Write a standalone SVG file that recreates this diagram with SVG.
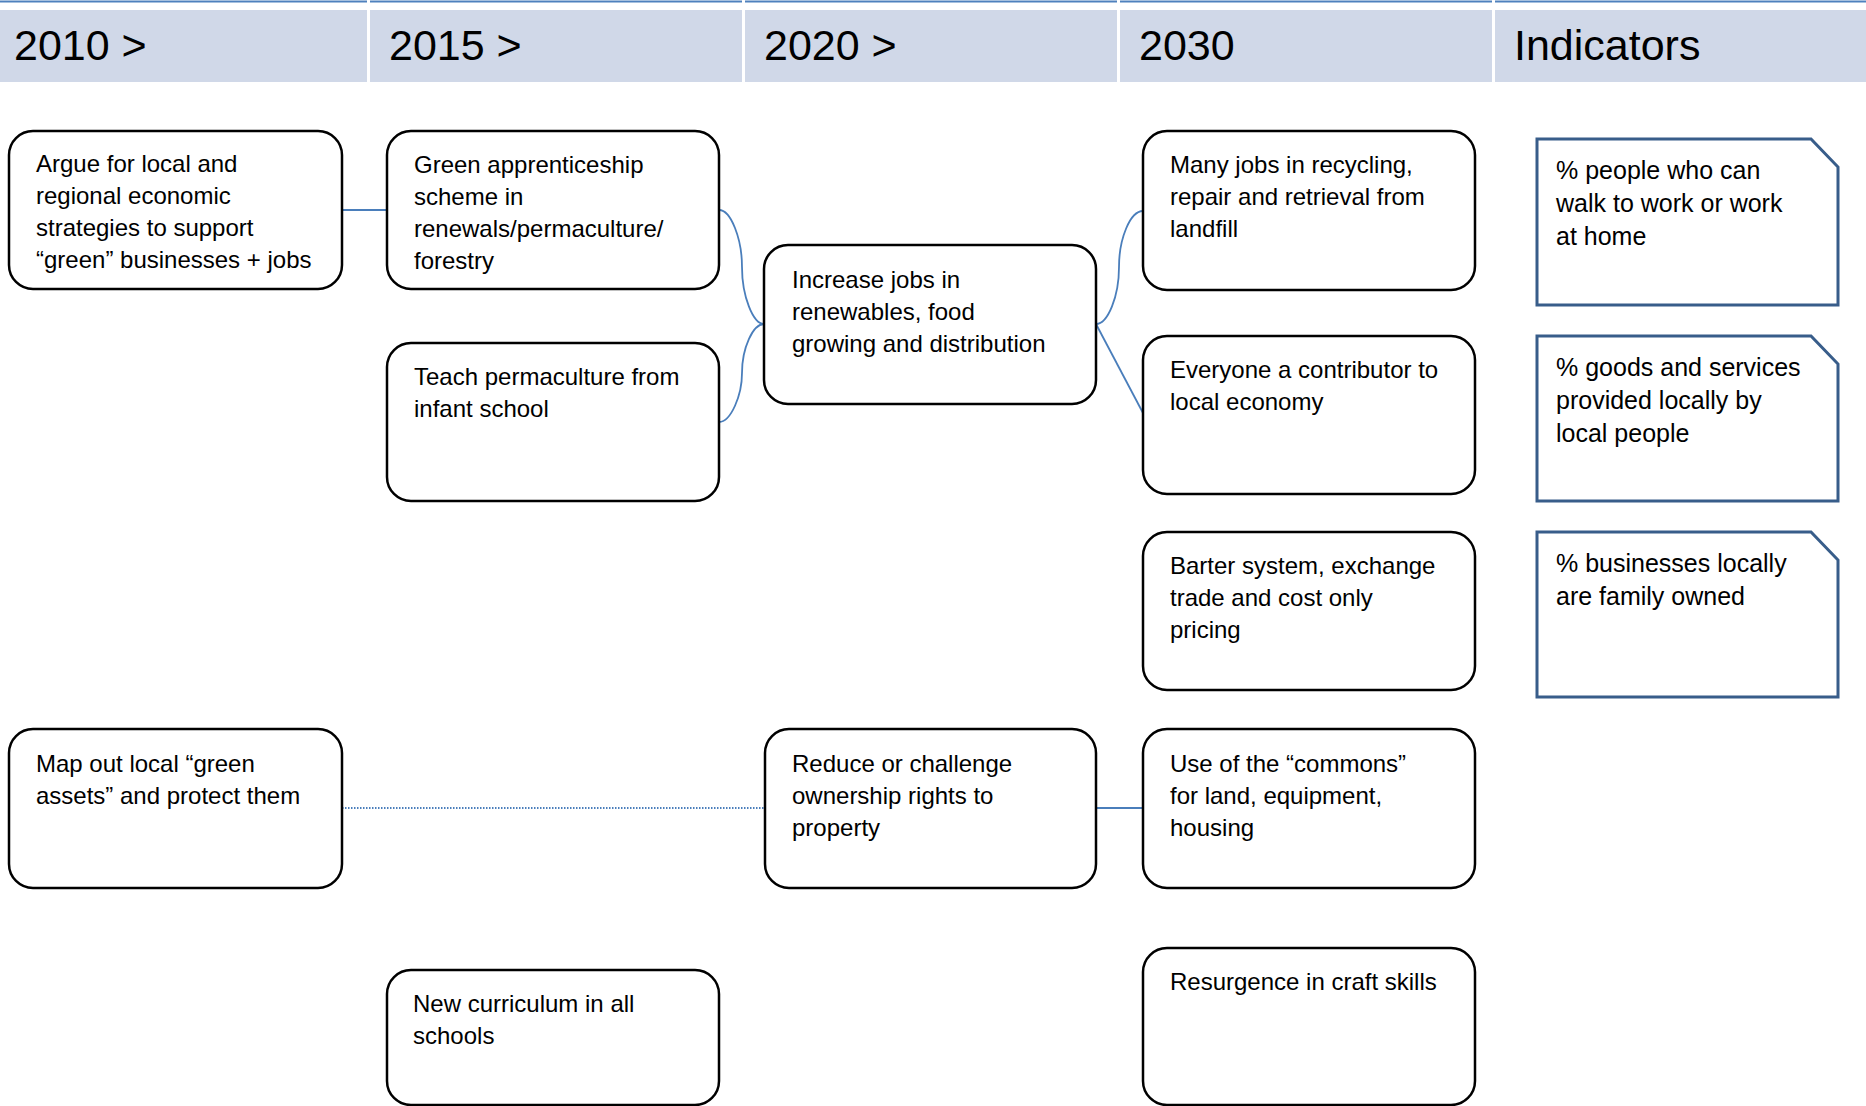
<svg xmlns="http://www.w3.org/2000/svg" width="1866" height="1106" viewBox="0 0 1866 1106">
<style>
.hdr{fill:#d0d8e8}
.topline{stroke:#4f81bd;stroke-width:2}
.htxt{font-family:"Liberation Sans",Arial,sans-serif;font-size:43px;fill:#000}
.box{fill:#fff;stroke:#000;stroke-width:2.5}
.ind{fill:#fff;stroke:#385d8a;stroke-width:3}
.t{font-family:"Liberation Sans",Arial,sans-serif;font-size:24px;fill:#000}
.ti{font-family:"Liberation Sans",Arial,sans-serif;font-size:25px;fill:#000}
.con{fill:none;stroke:#4a7ebb;stroke-width:1.8}
.dot{fill:none;stroke:#4a7ebb;stroke-width:1.8;stroke-dasharray:1.5 1.5}
</style>
<rect width="1866" height="1106" fill="#fff"/>
<g id="header">
<line class="topline" x1="0" y1="1.5" x2="367" y2="1.5"/>
<line class="topline" x1="370" y1="1.5" x2="742" y2="1.5"/>
<line class="topline" x1="745" y1="1.5" x2="1117" y2="1.5"/>
<line class="topline" x1="1120" y1="1.5" x2="1492" y2="1.5"/>
<line class="topline" x1="1495" y1="1.5" x2="1866" y2="1.5"/>
<rect class="hdr" x="0" y="10" width="367" height="72"/>
<rect class="hdr" x="370" y="10" width="372" height="72"/>
<rect class="hdr" x="745" y="10" width="372" height="72"/>
<rect class="hdr" x="1120" y="10" width="372" height="72"/>
<rect class="hdr" x="1495" y="10" width="371" height="72"/>
<text class="htxt" x="14" y="60">2010 &gt;</text>
<text class="htxt" x="389" y="60">2015 &gt;</text>
<text class="htxt" x="764" y="60">2020 &gt;</text>
<text class="htxt" x="1139" y="60">2030</text>
<text class="htxt" x="1514" y="60">Indicators</text>
</g>
<g id="connectors">
<line class="con" x1="342" y1="210" x2="387" y2="210"/>
<path class="con" d="M719,210 C731,210 742,239 742,267 C742,296 753,324 764,324"/>
<path class="con" d="M719,422 C731,422 742,395 742,373 C742,348 753,324 764,324"/>
<path class="con" d="M1096,324 C1108,324 1119,296 1119,267 C1119,239 1130,211 1143,211"/>
<line class="con" x1="1096" y1="324" x2="1143" y2="413"/>
<line class="dot" x1="342" y1="808" x2="765" y2="808"/>
<line class="con" x1="1096" y1="808" x2="1143" y2="808"/>
</g>
<g id="n2010a"><rect class="box" x="9" y="131" width="333" height="158" rx="24"/>
<text class="t"><tspan x="36" y="172">Argue for local and</tspan><tspan x="36" y="204">regional economic</tspan><tspan x="36" y="236">strategies to support</tspan><tspan x="36" y="268">“green” businesses + jobs</tspan></text></g>
<g id="n2015a"><rect class="box" x="387" y="131" width="332" height="158" rx="24"/>
<text class="t"><tspan x="414" y="173">Green apprenticeship</tspan><tspan x="414" y="205">scheme in</tspan><tspan x="414" y="237">renewals/permaculture/</tspan><tspan x="414" y="269">forestry</tspan></text></g>
<g id="n2015b"><rect class="box" x="387" y="343" width="332" height="158" rx="24"/>
<text class="t"><tspan x="414" y="385">Teach permaculture from</tspan><tspan x="414" y="417">infant school</tspan></text></g>
<g id="n2020a"><rect class="box" x="764" y="245" width="332" height="159" rx="24"/>
<text class="t"><tspan x="792" y="288">Increase jobs in</tspan><tspan x="792" y="320">renewables, food</tspan><tspan x="792" y="352">growing and distribution</tspan></text></g>
<g id="n2030a"><rect class="box" x="1143" y="131" width="332" height="159" rx="24"/>
<text class="t"><tspan x="1170" y="173">Many jobs in recycling,</tspan><tspan x="1170" y="205">repair and retrieval from</tspan><tspan x="1170" y="237">landfill</tspan></text></g>
<g id="n2030b"><rect class="box" x="1143" y="336" width="332" height="158" rx="24"/>
<text class="t"><tspan x="1170" y="378">Everyone a contributor to</tspan><tspan x="1170" y="410">local economy</tspan></text></g>
<g id="n2030c"><rect class="box" x="1143" y="532" width="332" height="158" rx="24"/>
<text class="t"><tspan x="1170" y="574">Barter system, exchange</tspan><tspan x="1170" y="606">trade and cost only</tspan><tspan x="1170" y="638">pricing</tspan></text></g>
<g id="n2010b"><rect class="box" x="9" y="729" width="333" height="159" rx="24"/>
<text class="t"><tspan x="36" y="772">Map out local “green</tspan><tspan x="36" y="804">assets” and protect them</tspan></text></g>
<g id="n2020b"><rect class="box" x="765" y="729" width="331" height="159" rx="24"/>
<text class="t"><tspan x="792" y="772">Reduce or challenge</tspan><tspan x="792" y="804">ownership rights to</tspan><tspan x="792" y="836">property</tspan></text></g>
<g id="n2030d"><rect class="box" x="1143" y="729" width="332" height="159" rx="24"/>
<text class="t"><tspan x="1170" y="772">Use of the “commons”</tspan><tspan x="1170" y="804">for land, equipment,</tspan><tspan x="1170" y="836">housing</tspan></text></g>
<g id="n2015c"><rect class="box" x="387" y="970" width="332" height="135" rx="24"/>
<text class="t"><tspan x="413" y="1012">New curriculum in all</tspan><tspan x="413" y="1044">schools</tspan></text></g>
<g id="n2030e"><rect class="box" x="1143" y="948" width="332" height="157" rx="24"/>
<text class="t"><tspan x="1170" y="990">Resurgence in craft skills</tspan></text></g>
<g id="ind1"><path class="ind" d="M1537,139 H1811 L1838,167 V305 H1537 Z"/>
<text class="ti"><tspan x="1556" y="179">% people who can</tspan><tspan x="1556" y="212">walk to work or work</tspan><tspan x="1556" y="245">at home</tspan></text></g>
<g id="ind2"><path class="ind" d="M1537,336 H1811 L1838,364 V501 H1537 Z"/>
<text class="ti"><tspan x="1556" y="376">% goods and services</tspan><tspan x="1556" y="409">provided locally by</tspan><tspan x="1556" y="442">local people</tspan></text></g>
<g id="ind3"><path class="ind" d="M1537,532 H1811 L1838,560 V697 H1537 Z"/>
<text class="ti"><tspan x="1556" y="572">% businesses locally</tspan><tspan x="1556" y="605">are family owned</tspan></text></g>
</svg>
